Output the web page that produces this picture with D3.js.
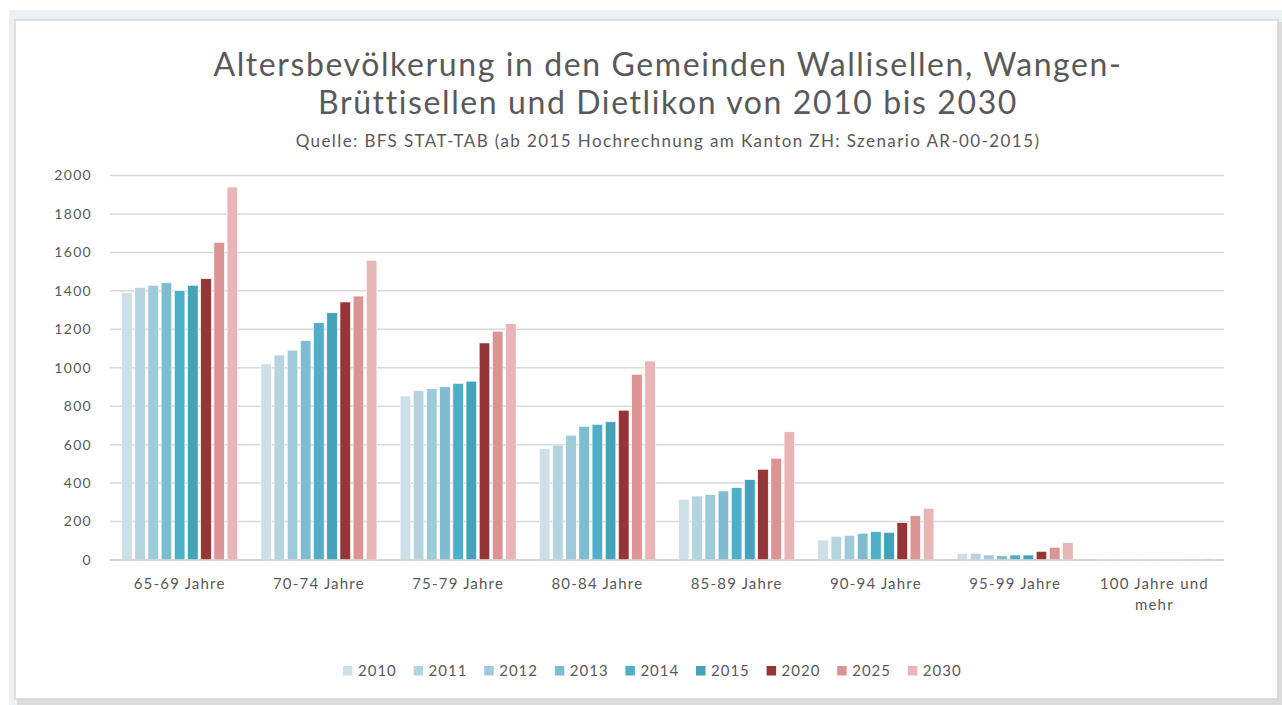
<!DOCTYPE html>
<html>
<head>
<meta charset="utf-8">
<script src="https://cdn.jsdelivr.net/npm/d3@7"></script>
<style>
  body { margin: 0; background: #fff; }
  svg { display: block; }
  text { font-family: Lato, "Open Sans", sans-serif; fill: #595959; }
</style>
</head>
<body>
<svg id="chart"></svg>
<script>
// Age groups and years
const categories = ["65-69 Jahre", "70-74 Jahre", "75-79 Jahre", "80-84 Jahre",
  "85-89 Jahre", "90-94 Jahre", "95-99 Jahre", "100 Jahre und mehr"];
const years = ["2010", "2011", "2012", "2013", "2014", "2015", "2020", "2025", "2030"];

// Values per age group, one entry per year
const v6569 = [1390, 1418, 1429, 1442, 1401, 1429, 1463, 1652, 1940];
const v7074 = [1020, 1066, 1091, 1141, 1234, 1286, 1342, 1373, 1559];
const v7579 = [853, 881, 891, 901, 919, 930, 1129, 1190, 1229];
const v8084 = [579, 598, 649, 695, 706, 719, 779, 966, 1035];
const v8589 = [316, 333, 340, 359, 376, 418, 472, 529, 667];
const v9094 = [104, 123, 128, 139, 147, 144, 194, 230, 269];
const v9599 = [35, 35, 26, 22, 26, 26, 45, 66, 90];
const v100 = [2, 2, 2, 2, 2, 2, 3, 4, 7];
const values = [v6569, v7074, v7579, v8084, v8589, v9094, v9599, v100];

const yTicks = [0, 200, 400, 600, 800, 1000, 1200, 1400, 1600, 1800, 2000];

const colours = ["#cde0e8", "#b5d4e0", "#9fcad9", "#7ebccf", "#4eafc8",
  "#45a2b9", "#953535", "#dc9393", "#e8b6b6"];

const title1 = "Altersbevölkerung in den Gemeinden Wallisellen, Wangen-";
const title2 = "Brüttisellen und Dietlikon von 2010 bis 2030";
const subtitle = "Quelle: BFS STAT-TAB (ab 2015 Hochrechnung am Kanton ZH: Szenario AR-00-2015)";

const W = 1282, H = 705;
const svg = d3.select("#chart").attr("width", W).attr("height", H);

// Frame: light background, shadow, white card
svg.append("rect").attr("x", 9).attr("y", 10).attr("width", W - 9).attr("height", H - 10)
    .attr("fill", "#edf1f4");
svg.append("rect").attr("x", 17).attr("y", 22).attr("width", W - 17).attr("height", H - 22)
    .attr("fill", "#dcdcdc");
svg.append("rect").attr("x", 15).attr("y", 20).attr("width", 1263).attr("height", 679)
    .attr("fill", "#fff").attr("stroke", "#d6d6d6").attr("stroke-width", 1.5);

// Titles
const cx = 668;
svg.append("text").attr("x", cx).attr("y", 76).attr("text-anchor", "middle")
    .attr("font-size", 32).attr("letter-spacing", 1.6).text(title1);
svg.append("text").attr("x", cx).attr("y", 114).attr("text-anchor", "middle")
    .attr("font-size", 32).attr("letter-spacing", 1.6).text(title2);
svg.append("text").attr("x", cx).attr("y", 147).attr("text-anchor", "middle")
    .attr("font-size", 17).attr("letter-spacing", 1.4).text(subtitle);

// Scales
const plot = { left: 110, right: 1224, top: 175.5, bottom: 560 };

const x0 = d3.scaleBand()
    .domain(categories)
    .range([plot.left, plot.right])
    .paddingInner(0.167)
    .paddingOuter(0.0835);

const x1 = d3.scaleBand()
    .domain(years)
    .range([0, x0.bandwidth()])
    .paddingInner(0.2);

const y = d3.scaleLinear()
    .domain([0, 2000])
    .range([plot.bottom, plot.top]);

const colour = d3.scaleOrdinal().domain(years).range(colours);

// Gridlines
svg.append("g")
  .selectAll("line")
    .data(yTicks)
  .join("line")
    .attr("x1", plot.left)
    .attr("x2", plot.right)
    .attr("y1", d => y(d))
    .attr("y2", d => y(d))
    .attr("stroke", "#d9d9d9")
    .attr("stroke-width", 1.5);

// Y axis labels
svg.append("g")
  .selectAll("text")
    .data(yTicks)
  .join("text")
    .attr("x", 92)
    .attr("y", d => y(d))
    .attr("dy", "0.35em")
    .attr("text-anchor", "end")
    .attr("font-size", 14)
    .attr("letter-spacing", 1.3)
    .text(d => d);

// Bars
const groups = svg.append("g")
  .selectAll("g")
    .data(categories)
  .join("g")
    .attr("transform", d => `translate(${x0(d)},0)`);

groups.selectAll("rect")
    .data((d, i) => years.map((yr, j) => ({ year: yr, value: values[i][j] })))
  .join("rect")
    .attr("x", d => x1(d.year))
    .attr("y", d => y(d.value))
    .attr("width", x1.bandwidth())
    .attr("height", d => y(0) - y(d.value))
    .attr("fill", d => colour(d.year))
    .attr("stroke", "#fff")
    .attr("stroke-width", 0.6);

// Baseline
svg.append("line")
    .attr("x1", plot.left).attr("x2", plot.right)
    .attr("y1", y(0)).attr("y2", y(0))
    .attr("stroke", "#d0d0d0").attr("stroke-width", 1.5);

// Category labels (wrapped like the original)
svg.append("g")
  .selectAll("text")
    .data(categories)
  .join("text")
    .attr("x", d => x0(d) + x0.bandwidth() / 2)
    .attr("y", 589)
    .attr("text-anchor", "middle")
    .attr("font-size", 15)
    .attr("letter-spacing", 1.2)
    .each(function(d) {
      let lines = d === "100 Jahre und mehr" ? ["100 Jahre und", "mehr"] : [d];
      d3.select(this).selectAll("tspan")
          .data(lines)
        .join("tspan")
          .attr("x", x0(d) + x0.bandwidth() / 2)
          .attr("dy", (l, i) => i === 0 ? 0 : 21)
          .text(l => l);
    });

// Legend
const legend = svg.append("g")
  .selectAll("g")
    .data(years)
  .join("g")
    .attr("transform", (d, i) => `translate(${343 + i * 70.6},671)`);

legend.append("rect")
    .attr("x", 0).attr("y", -5)
    .attr("width", 9.5).attr("height", 9.5)
    .attr("fill", d => colour(d));

legend.append("text")
    .attr("x", 15)
    .attr("y", 0)
    .attr("dy", "0.35em")
    .attr("font-size", 15)
    .attr("letter-spacing", 1)
    .text(d => d);
</script>
</body>
</html>
